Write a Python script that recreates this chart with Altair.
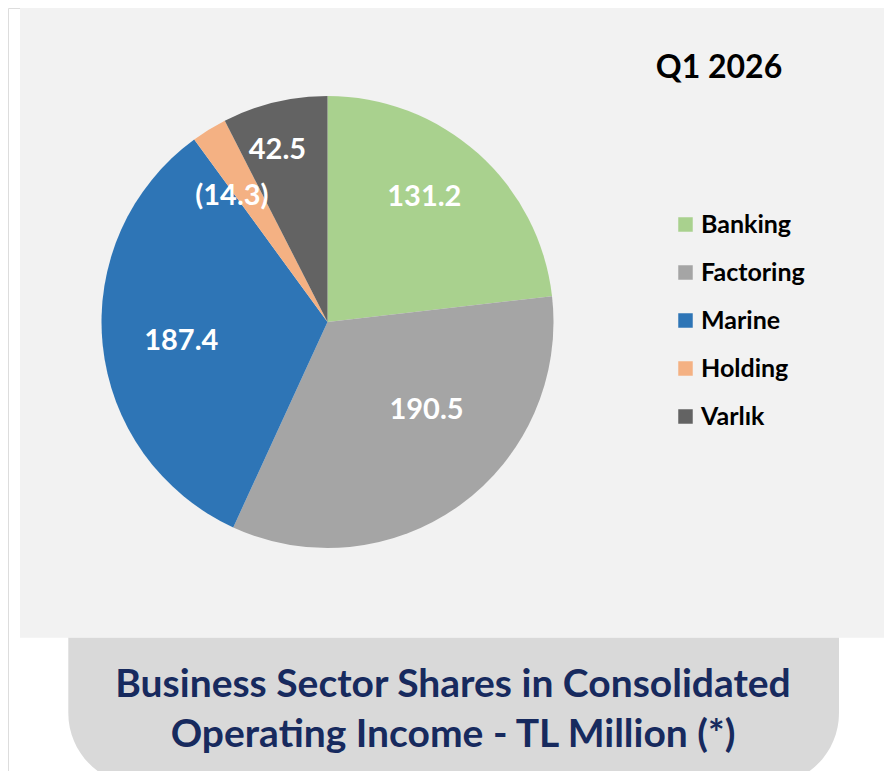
import math
import altair as alt
import pandas as pd

# ---- data ----
sectors = ["Banking", "Factoring", "Marine", "Holding", "Varlık"]
values = [131.2, 190.5, 187.4, -14.3, 42.5]
colors = ["#A9D18E", "#A5A5A5", "#2E75B6", "#F4B183", "#636363"]
period_title = "Q1 2026"
caption_lines = ["Business Sector Shares in Consolidated", "Operating Income - TL Million (*)"]

df = pd.DataFrame({"sector": sectors, "value": values, "idx": list(range(len(sectors)))})

FONT = "Lato"
W, H = 876, 763
CX, CY, R = 319.5, 314, 226

theta_scale = alt.Scale(domain=[0, 1], range=[0, 2 * math.pi])
color_scale = alt.Scale(domain=sectors, range=colors)

base = (
    alt.Chart(df)
    .transform_calculate(absval="abs(datum.value)")
    .transform_window(cum="sum(absval)", sort=[alt.SortField("idx")], frame=[None, 0])
    .transform_joinaggregate(total="sum(absval)")
    .transform_calculate(
        t0="(datum.cum - datum.absval) / datum.total",
        t1="datum.cum / datum.total",
        tm="(datum.cum - datum.absval / 2) / datum.total",
        label="datum.value < 0 ? '(' + format(abs(datum.value), '.1f') + ')' : format(datum.value, '.1f')",
    )
)

one = alt.Data(values=[{}])

panel = alt.Chart(one).mark_rect(color="#F2F2F2").encode(
    x=alt.value(12), x2=alt.value(W), y=alt.value(0), y2=alt.value(629.7)
)
caption_box = alt.Chart(one).mark_rect(
    color="#D9D9D9", cornerRadiusBottomLeft=72, cornerRadiusBottomRight=72
).encode(x=alt.value(60.3), x2=alt.value(831), y=alt.value(629.7), y2=alt.value(777))

pie = base.mark_arc(radius=R).encode(
    theta=alt.Theta("t0:Q", scale=theta_scale),
    theta2="t1:Q",
    color=alt.Color(
        "sector:N",
        scale=color_scale,
        sort=sectors,
        legend=alt.Legend(
            title=None,
            orient="none",
            legendX=665,
            legendY=204,
            symbolType="square",
            symbolSize=210,
            symbolStrokeWidth=0,
            labelFont=FONT,
            labelFontSize=25,
            labelFontWeight="bold",
            labelColor="black",
            labelOffset=3,
            rowPadding=22,
        ),
    ),
    x=alt.value(CX),
    y=alt.value(CY),
)

# per-label nudges (Excel best-fit placement)
nudges = {
    "Banking": (-3, -13),
    "Factoring": (11, -33),
    "Marine": (3, 4),
    "Holding": (-17, 2),
    "Varlık": (-15, -26),
}
label_layers = []
for s in sectors:
    ddx, ddy = nudges[s]
    label_layers.append(
        base.transform_filter(alt.datum.sector == s)
        .mark_text(
            radius=150, dx=ddx, dy=ddy, font=FONT, fontSize=29, fontWeight="bold",
            color="white", align="center", baseline="middle",
        )
        .encode(theta=alt.Theta("tm:Q", scale=theta_scale), text="label:N",
                x=alt.value(CX), y=alt.value(CY))
    )

title_txt = alt.Chart(one).mark_text(
    text=period_title, font=FONT, fontSize=32, fontWeight="bold", color="black",
    align="center", baseline="middle",
).encode(x=alt.value(711), y=alt.value(60))

caption_txt = alt.Chart(one).mark_text(
    text=caption_lines, font=FONT, fontSize=39, fontWeight="bold", color="#172A5E",
    align="center", baseline="middle", lineHeight=50,
).encode(x=alt.value(445), y=alt.value(677))

chart = (
    alt.layer(panel, caption_box, pie, *label_layers, title_txt, caption_txt)
    .properties(width=W, height=H, padding=0, autosize=alt.AutoSizeParams(type="none"))
    .configure_view(stroke=None)
    .configure(background="white")
)

chart.save("out.html", embed_options={"renderer": "svg", "actions": False})
